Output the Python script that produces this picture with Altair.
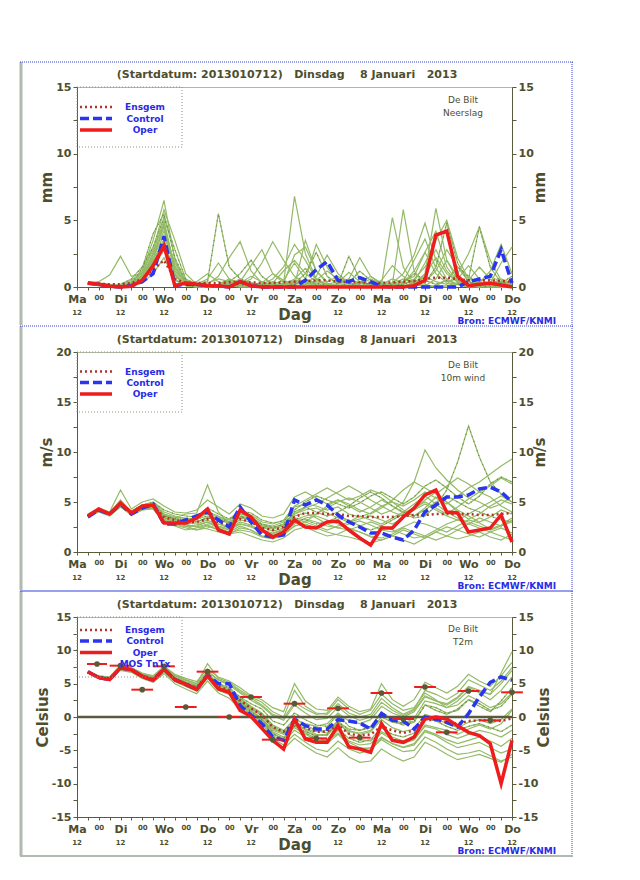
import altair as alt
import pandas as pd

# ---------------- data ----------------
HOURS = [6, 12, 18, 24, 30, 36, 42, 48, 54, 60, 66, 72, 78, 84, 90, 96, 102, 108, 114, 120,
         126, 132, 138, 144, 150, 156, 162, 168, 174, 180, 186, 192, 198, 204, 210, 216, 222, 228, 234, 240]
TICK_HOURS = [0] + HOURS
DAYS = ["Ma", "Di", "Wo", "Do", "Vr", "Za", "Zo", "Ma", "Di", "Wo", "Do"]
TWELVE_AT = [0, 24, 48, 72, 96, 144, 168, 192, 216, 240]
NB = "\u00a0"
TITLE = "(Startdatum: 2013010712)" + NB * 3 + "Dinsdag" + NB * 4 + "8 Januari" + NB * 3 + "2013"
STATION = "De Bilt"
SOURCE = "Bron: ECMWF/KNMI"
PANEL_NAMES = ["Neerslag", "10m wind", "T2m"]
Y_TITLES = ["mm", "m/s", "Celsius"]
LEGEND_LABELS = ["Ensgem", "Control", "Oper", "MOS TnTx"]

# Precipitation (mm / 6h)
P_OPER = [0.3, 0.2, 0.05, 0.0, 0.05, 0.5, 1.6, 3.1, 0.1, 0.3,
          0.2, 0.1, 0.1, 0.0, 0.4, 0.1, 0.0, 0.0, 0.0, 0.0,
          0.0, 0.0, 0.0, 0.0, 0.0, 0.0, 0.0, 0.0, 0.0, 0.0,
          0.1, 0.5, 3.9, 4.2, 0.8, 0.1, 0.2, 0.3, 0.15, 0.0]
P_CONTROL = [0.3, 0.2, 0.05, 0.0, 0.1, 0.4, 1.0, 3.8, 0.1, 0.2,
             0.2, 0.1, 0.1, 0.0, 0.4, 0.1, 0.0, 0.0, 0.0, 0.0,
             0.5, 1.3, 1.9, 0.5, 0.4, 0.7, 0.4, 0.05, 0.0, 0.0,
             0.0, 0.0, 0.0, 0.0, 0.0, 0.4, 0.6, 0.8, 2.8, 0.3]
P_ENSGEM = [0.3, 0.25, 0.2, 0.2, 0.3, 0.6, 1.3, 2.0, 0.6, 0.3,
            0.3, 0.3, 0.3, 0.35, 0.4, 0.35, 0.3, 0.3, 0.35, 0.4,
            0.45, 0.5, 0.5, 0.4, 0.35, 0.35, 0.3, 0.3, 0.35, 0.4,
            0.45, 0.6, 0.7, 0.7, 0.6, 0.5, 0.5, 0.5, 0.45, 0.4]
P_MEMBERS = [
    [0.3, 0.2, 0.1, 0.0, 0.2, 0.8, 2.5, 4.5, 1.2, 0.3, 0.1, 0.0, 0.2, 0.5, 0.3, 0.1, 0.0, 0.0, 0.2, 0.5,
     0.3, 0.1, 0.0, 0.0, 0.1, 0.3, 0.2, 0.0, 0.0, 0.2, 0.6, 1.5, 2.8, 1.2, 0.3, 0.1, 0.0, 0.0, 0.1, 0.2],
    [0.3, 0.3, 0.2, 0.1, 0.3, 1.2, 3.5, 6.5, 2.0, 0.4, 0.2, 0.1, 0.0, 0.0, 0.3, 0.8, 0.4, 0.1, 0.0, 0.1,
     0.2, 0.5, 1.2, 0.6, 0.2, 0.0, 0.0, 0.1, 0.3, 0.0, 0.2, 0.8, 0.4, 0.2, 1.0, 2.5, 4.5, 2.0, 0.5, 0.2],
    [0.2, 0.1, 0.0, 0.2, 0.6, 1.5, 3.0, 5.2, 2.8, 0.6, 0.2, 0.4, 5.5, 1.5, 0.6, 0.3, 0.1, 0.0, 0.0, 0.2,
     0.4, 0.2, 0.0, 0.0, 0.3, 1.2, 0.5, 0.1, 0.0, 0.3, 1.0, 0.5, 0.2, 0.5, 1.5, 0.8, 0.2, 0.1, 0.3, 0.8],
    [0.3, 0.2, 0.1, 0.1, 0.1, 0.5, 1.8, 3.6, 0.8, 0.2, 0.0, 0.0, 0.0, 0.1, 0.2, 0.6, 1.8, 3.4, 2.0, 0.8,
     0.3, 0.1, 0.0, 0.2, 0.6, 0.3, 0.0, 0.0, 0.0, 0.0, 0.1, 0.4, 1.2, 2.8, 1.5, 0.4, 0.2, 0.0, 0.0, 0.0],
    [0.3, 0.4, 0.9, 2.3, 0.8, 1.0, 2.2, 3.9, 1.5, 0.2, 0.1, 0.3, 0.6, 0.4, 0.1, 0.0, 0.0, 0.1, 0.3, 6.8,
     2.5, 0.6, 0.2, 0.0, 0.0, 0.1, 0.2, 0.4, 0.2, 0.1, 0.3, 1.0, 5.9, 2.0, 0.5, 0.2, 0.1, 0.0, 0.0, 0.1],
    [0.2, 0.2, 0.1, 0.0, 0.2, 0.7, 2.0, 4.8, 1.0, 0.1, 0.0, 0.2, 0.8, 2.2, 3.4, 1.2, 0.3, 0.0, 0.0, 0.0,
     0.2, 0.8, 2.4, 1.0, 0.3, 0.0, 0.0, 0.0, 0.2, 5.8, 1.2, 0.2, 0.0, 0.1, 0.3, 0.2, 0.0, 0.2, 0.6, 0.3],
    [0.3, 0.2, 0.0, 0.0, 0.4, 1.0, 2.8, 5.8, 3.5, 1.0, 0.2, 0.0, 0.1, 0.3, 0.2, 0.1, 0.3, 1.0, 0.5, 0.2,
     0.6, 3.2, 1.5, 0.3, 0.1, 0.0, 0.0, 0.2, 0.0, 0.0, 0.4, 1.8, 3.5, 5.0, 2.2, 0.6, 0.3, 0.1, 0.0, 0.2],
    [0.3, 0.3, 0.1, 0.0, 0.1, 0.4, 1.4, 2.8, 0.6, 0.1, 0.0, 0.0, 0.0, 0.0, 0.1, 0.3, 0.2, 0.0, 0.0, 0.3,
     1.0, 2.6, 0.8, 0.2, 2.3, 0.6, 0.1, 0.0, 0.2, 0.6, 0.3, 0.1, 0.0, 0.0, 0.2, 0.6, 4.5, 1.5, 0.3, 0.1],
    [0.2, 0.1, 0.1, 0.0, 0.3, 0.9, 2.4, 4.2, 1.8, 0.5, 0.3, 0.1, 0.0, 0.1, 0.4, 1.6, 2.8, 1.0, 0.3, 0.1,
     3.5, 1.2, 0.3, 0.0, 0.0, 0.2, 0.6, 0.2, 5.2, 1.5, 0.2, 0.0, 0.1, 0.5, 0.2, 0.0, 0.3, 1.2, 3.2, 1.0],
    [0.3, 0.2, 0.1, 0.1, 0.2, 0.6, 1.6, 3.2, 1.2, 0.4, 0.2, 0.1, 0.2, 0.6, 0.3, 0.1, 0.0, 0.3, 1.2, 2.0,
     1.0, 0.4, 0.2, 0.4, 0.6, 2.2, 0.8, 0.2, 0.0, 0.0, 0.2, 0.9, 2.2, 1.0, 0.4, 0.2, 0.4, 0.8, 0.4, 0.2],
    [0.3, 0.2, 0.0, 0.0, 0.1, 0.5, 2.6, 5.0, 1.4, 0.3, 0.1, 0.0, 0.0, 0.2, 0.6, 0.2, 0.0, 0.0, 0.1, 0.4,
     0.2, 0.0, 0.0, 0.1, 0.3, 0.1, 0.0, 0.0, 0.3, 1.0, 2.4, 4.8, 2.0, 0.6, 0.2, 0.0, 0.0, 0.1, 0.4, 0.2],
    [0.2, 0.2, 0.1, 0.1, 0.3, 0.8, 2.1, 3.4, 0.9, 0.2, 0.4, 1.0, 0.4, 0.1, 0.0, 0.0, 0.2, 0.6, 1.5, 3.2,
     2.0, 0.6, 0.1, 0.0, 0.0, 0.3, 0.8, 0.3, 0.1, 0.4, 2.0, 3.6, 1.4, 0.4, 0.6, 1.6, 0.6, 0.2, 0.0, 0.0],
    [0.3, 0.3, 0.2, 0.0, 0.2, 1.4, 4.0, 5.5, 2.2, 0.4, 0.1, 0.0, 0.1, 0.4, 1.0, 2.0, 0.8, 0.2, 0.0, 0.2,
     0.5, 0.3, 0.1, 0.0, 0.1, 0.4, 0.2, 0.0, 0.0, 0.2, 0.5, 0.3, 1.5, 4.8, 1.8, 0.4, 0.1, 0.0, 0.2, 0.5],
    [0.3, 0.2, 0.1, 0.0, 0.1, 0.3, 1.0, 2.2, 0.5, 0.1, 0.0, 0.0, 0.0, 0.1, 0.0, 0.0, 0.1, 0.4, 0.2, 0.6,
     1.4, 0.6, 0.2, 0.0, 0.0, 0.0, 0.1, 0.5, 1.6, 0.8, 0.2, 0.1, 0.6, 2.0, 0.8, 0.2, 0.0, 0.0, 0.0, 0.0],
    [0.2, 0.2, 0.1, 0.1, 0.5, 1.1, 3.0, 4.6, 1.6, 0.4, 0.2, 0.6, 1.8, 0.6, 0.2, 0.0, 0.0, 0.0, 0.3, 2.4,
     3.0, 1.2, 0.4, 0.8, 0.3, 0.0, 0.0, 0.2, 0.6, 0.3, 1.2, 2.6, 4.2, 1.5, 0.4, 0.1, 0.0, 0.3, 1.8, 3.0],
    [0.3, 0.2, 0.1, 0.0, 0.1, 0.6, 1.9, 3.0, 1.0, 0.2, 0.1, 0.0, 0.1, 0.2, 0.1, 0.0, 0.0, 0.2, 0.5, 1.8,
     0.6, 0.2, 0.0, 0.3, 1.1, 0.4, 0.1, 0.0, 0.1, 0.4, 0.8, 2.6, 1.0, 0.3, 0.2, 0.5, 1.5, 0.6, 0.2, 0.1],
]

# 10m wind (m/s)
W_OPER = [3.6, 4.3, 3.8, 4.9, 3.9, 4.6, 4.7, 2.9, 2.9, 2.9,
          3.4, 4.3, 2.2, 1.8, 4.2, 3.5, 2.2, 1.5, 2.0, 3.2,
          2.5, 2.4, 3.0, 3.1, 2.2, 1.4, 0.7, 2.4, 2.4, 3.5,
          4.4, 5.7, 6.2, 4.0, 3.9, 2.0, 2.2, 2.4, 3.7, 1.0]
W_CONTROL = [3.5, 4.2, 3.8, 4.8, 3.8, 4.4, 4.8, 2.8, 2.8, 3.2,
             3.6, 4.0, 3.2, 2.5, 4.5, 3.0, 1.7, 1.5, 1.7, 5.2,
             4.7, 5.2, 4.7, 3.7, 3.0, 2.5, 1.9, 1.9, 1.5, 1.2,
             2.2, 4.0, 4.7, 5.5, 5.5, 5.7, 6.3, 6.5, 6.0, 5.0]
W_ENSGEM = [3.6, 4.2, 3.8, 4.8, 3.9, 4.4, 4.6, 3.5, 3.2, 3.0,
            3.0, 3.3, 3.0, 2.7, 3.3, 3.0, 2.4, 2.2, 2.5, 3.5,
            3.9, 3.9, 3.8, 3.8, 3.6, 3.6, 3.5, 3.5, 3.5, 3.6,
            3.7, 3.7, 3.8, 3.8, 3.8, 3.8, 3.7, 3.7, 3.8, 3.9]
W_MEMBERS = [
    [3.7, 4.3, 3.9, 5.2, 4.0, 4.6, 4.8, 3.8, 3.5, 3.4, 3.2, 4.0, 3.6, 3.0, 3.8, 3.5, 2.8, 2.6, 3.0, 4.5,
     4.8, 4.6, 4.2, 4.5, 3.8, 3.5, 3.9, 4.6, 5.0, 4.2, 3.6, 4.4, 5.5, 5.0, 4.0, 3.3, 3.8, 4.6, 5.2, 4.8],
    [3.5, 4.1, 3.7, 4.6, 3.8, 4.3, 4.4, 3.2, 2.8, 2.5, 2.6, 3.0, 2.4, 2.0, 2.6, 2.2, 1.6, 1.5, 2.0, 3.0,
     3.3, 3.0, 2.6, 2.4, 2.8, 3.1, 2.7, 2.2, 2.0, 2.5, 3.0, 2.8, 2.4, 2.0, 2.6, 3.2, 2.9, 2.3, 2.7, 3.4],
    [3.6, 4.2, 3.8, 5.0, 4.1, 4.7, 5.0, 4.2, 3.8, 3.6, 3.5, 4.4, 3.8, 3.3, 4.1, 3.9, 3.2, 2.9, 3.1, 4.2,
     5.0, 5.6, 5.2, 4.8, 4.4, 4.9, 5.6, 6.0, 5.4, 4.8, 5.5, 6.6, 7.2, 6.4, 5.5, 4.8, 5.6, 6.8, 7.5, 7.0],
    [3.6, 4.2, 3.8, 4.7, 3.7, 4.2, 4.3, 3.0, 2.6, 2.2, 2.4, 2.7, 2.2, 1.8, 2.0, 1.6, 1.2, 1.0, 1.4, 2.2,
     2.5, 2.0, 1.6, 1.8, 2.3, 2.0, 1.5, 1.2, 1.6, 2.2, 1.8, 1.4, 2.0, 2.5, 2.2, 1.8, 1.5, 2.0, 2.4, 1.9],
    [3.8, 4.4, 4.0, 6.2, 4.3, 5.0, 5.3, 4.6, 4.0, 3.9, 4.2, 5.2, 4.5, 3.8, 4.8, 4.4, 3.6, 3.4, 3.8, 5.5,
     6.0, 5.4, 4.8, 5.2, 4.6, 4.0, 4.5, 5.2, 4.6, 3.9, 4.4, 5.0, 4.4, 3.8, 4.5, 5.3, 6.0, 5.5, 4.6, 4.0],
    [3.5, 4.1, 3.8, 4.8, 3.8, 4.5, 4.7, 3.6, 3.4, 3.8, 3.9, 6.7, 4.0, 2.8, 3.4, 3.2, 2.6, 2.4, 2.8, 3.8,
     4.2, 4.4, 3.9, 3.4, 3.0, 3.3, 3.6, 3.2, 2.8, 3.4, 4.2, 5.2, 6.0, 5.0, 4.2, 3.6, 3.0, 3.5, 4.2, 3.8],
    [3.6, 4.3, 3.9, 4.9, 3.9, 4.4, 4.5, 3.4, 3.0, 2.9, 2.8, 3.2, 2.6, 2.3, 3.0, 2.7, 2.0, 1.8, 2.2, 3.2,
     3.6, 3.8, 4.4, 5.0, 5.4, 5.0, 4.4, 3.8, 4.2, 5.0, 7.0, 10.2, 8.4, 7.2, 6.2, 5.4, 5.0, 4.4, 4.8, 5.6],
    [3.7, 4.2, 3.7, 4.6, 3.9, 4.3, 4.6, 3.6, 3.3, 3.1, 3.0, 3.4, 3.2, 2.9, 3.6, 3.4, 2.8, 2.5, 2.7, 3.4,
     3.2, 2.8, 3.0, 3.5, 3.2, 2.6, 2.2, 2.6, 3.2, 3.8, 3.4, 3.6, 4.6, 6.2, 9.0, 12.6, 9.5, 7.0, 5.8, 5.0],
    [3.6, 4.2, 3.8, 4.8, 4.0, 4.4, 4.6, 3.3, 2.9, 2.6, 2.7, 3.0, 2.5, 2.2, 2.8, 2.5, 2.0, 1.7, 1.9, 2.8,
     3.4, 3.6, 3.2, 2.8, 2.4, 2.0, 1.6, 1.4, 1.8, 2.4, 2.0, 1.6, 1.2, 1.6, 2.2, 2.8, 3.4, 3.0, 2.6, 3.2],
    [3.7, 4.3, 3.9, 4.9, 4.0, 4.6, 4.9, 4.0, 3.6, 3.3, 3.4, 3.8, 3.5, 3.2, 3.9, 3.7, 3.0, 2.8, 3.2, 4.6,
     5.2, 5.8, 6.4, 5.8, 5.2, 5.6, 6.2, 5.8, 5.0, 4.6, 5.2, 6.0, 5.4, 4.8, 5.6, 6.4, 7.0, 7.8, 8.6, 9.3],
    [3.5, 4.0, 3.6, 4.5, 3.7, 4.2, 4.4, 3.4, 3.1, 2.8, 2.5, 2.8, 2.8, 2.6, 3.2, 3.0, 2.5, 2.3, 2.6, 3.6,
     3.9, 3.4, 2.8, 2.4, 2.2, 2.6, 3.0, 2.6, 2.2, 1.8, 1.4, 1.6, 2.2, 2.8, 3.2, 2.8, 2.4, 2.0, 1.6, 1.2],
    [3.6, 4.2, 3.8, 5.0, 3.9, 4.5, 4.7, 3.7, 3.2, 2.7, 2.5, 2.3, 2.0, 1.8, 2.4, 2.2, 1.6, 1.4, 1.8, 2.6,
     3.0, 3.8, 4.6, 5.2, 4.8, 4.2, 3.8, 4.4, 5.2, 6.2, 7.0, 6.4, 5.8, 6.6, 7.4, 6.8, 6.0, 6.6, 7.4, 6.8],
    [3.6, 4.1, 3.8, 4.7, 3.9, 4.4, 4.6, 3.6, 3.4, 3.2, 3.3, 3.6, 3.4, 3.0, 3.5, 3.3, 2.7, 2.4, 2.8, 4.0,
     4.5, 4.0, 3.6, 4.0, 4.6, 5.4, 6.0, 5.4, 4.6, 4.0, 3.6, 4.2, 5.0, 5.6, 5.0, 4.4, 4.0, 3.6, 3.2, 3.0],
    [3.7, 4.2, 3.9, 4.8, 3.8, 4.3, 4.5, 3.5, 3.1, 2.6, 2.2, 2.4, 2.8, 2.4, 2.8, 2.6, 2.2, 1.9, 2.3, 3.3,
     3.0, 2.6, 2.2, 2.6, 3.0, 3.6, 3.2, 2.8, 3.4, 4.0, 4.8, 5.6, 4.8, 4.0, 3.4, 3.0, 2.6, 2.2, 2.6, 3.0],
    [3.6, 4.2, 3.8, 4.9, 4.0, 4.5, 4.7, 3.8, 3.3, 3.0, 3.0, 3.5, 3.3, 2.9, 3.5, 3.2, 2.5, 2.1, 2.4, 3.8,
     4.4, 4.8, 5.4, 6.0, 6.6, 6.0, 5.2, 4.6, 4.0, 3.6, 4.2, 4.8, 4.2, 3.6, 3.2, 3.8, 4.4, 5.0, 5.6, 5.0],
    [3.5, 4.1, 3.7, 4.7, 3.8, 4.3, 4.4, 3.1, 2.7, 2.4, 2.2, 2.6, 2.2, 1.9, 2.2, 2.0, 1.5, 1.3, 1.7, 2.6,
     2.8, 2.4, 2.0, 1.7, 1.5, 1.2, 0.9, 1.2, 1.6, 1.2, 0.8, 1.4, 2.0, 1.6, 1.3, 1.6, 2.0, 1.5, 1.2, 1.8],
]

# 2m temperature (Celsius)
T_OPER = [6.8, 5.9, 5.6, 7.4, 7.1, 6.1, 5.5, 7.2, 5.6, 4.9,
          4.1, 6.2, 4.2, 3.7, 1.0, 0.1, -1.7, -3.5, -4.8, -0.3,
          -3.3, -3.8, -3.8, -1.3, -4.5, -4.8, -5.3, -1.0, -3.5, -3.8,
          -3.0, -0.3, 0.0, -0.3, -1.3, -2.3, -2.8, -4.0, -10.0, -3.5]
T_CONTROL = [6.8, 5.9, 5.6, 7.4, 7.1, 6.1, 5.5, 7.2, 5.6, 4.9,
             4.1, 6.3, 5.0, 5.0, 1.7, 0.3, -1.0, -3.0, -3.5, -0.3,
             -1.3, -1.8, -1.8, -0.4, -0.6, -0.9, -1.8, 0.5, -0.5, -0.6,
             -1.8, 0.0, -0.3, -0.8, -1.5, 0.5, 3.0, 5.2, 6.0, 5.5]
T_ENSGEM = [6.7, 6.0, 5.8, 7.3, 7.0, 6.2, 5.7, 7.0, 5.7, 5.0,
            4.4, 6.2, 4.6, 4.0, 2.5, 1.3, 0.3, -1.5, -2.2, -0.8,
            -1.6, -2.2, -2.2, -1.2, -2.5, -2.8, -2.6, -1.4, -2.0, -2.4,
            -2.0, -0.4, -0.5, -0.8, -1.0, -0.6, -0.5, -0.5, -0.6, -0.2]
T_MEMBERS = [
    [6.8, 6.1, 5.9, 7.6, 7.2, 6.4, 6.0, 7.4, 6.2, 5.5, 5.0, 6.8, 5.5, 4.8, 3.6, 2.5, 1.6, 0.2, -0.5, 1.8,
     0.6, -0.4, -0.2, 1.5, 0.2, -0.5, 0.0, 2.2, 1.0, 0.2, 1.0, 3.2, 2.4, 1.8, 2.8, 4.5, 3.6, 2.6, 4.0, 6.0],
    [6.6, 5.9, 5.7, 7.1, 6.8, 6.0, 5.4, 6.7, 5.3, 4.6, 3.9, 5.8, 4.0, 3.4, 1.8, 0.4, -0.8, -2.8, -3.6, -2.0,
     -3.0, -3.8, -4.0, -2.6, -4.2, -4.8, -4.6, -3.0, -4.0, -4.5, -4.0, -2.0, -2.6, -3.4, -4.0, -3.5, -3.0, -3.6, -4.4, -3.2],
    [6.7, 6.0, 5.8, 7.4, 7.1, 6.3, 5.8, 7.2, 5.9, 5.2, 4.6, 6.6, 5.0, 4.4, 3.0, 2.0, 1.2, -0.6, -1.2, 0.6,
     -0.4, -1.2, -1.4, 0.4, -1.4, -2.0, -1.6, 0.8, -0.6, -1.2, -0.8, 1.8, 1.0, 0.4, 1.2, 2.6, 1.6, 0.8, 2.4, 4.4],
    [6.8, 6.1, 5.8, 7.3, 7.0, 6.1, 5.6, 6.9, 5.6, 4.9, 4.2, 6.0, 4.4, 3.6, 2.2, 0.9, -0.2, -2.2, -3.0, -1.6,
     -2.6, -3.4, -3.6, -2.0, -3.6, -4.2, -4.0, -2.4, -3.4, -4.0, -3.4, -1.4, -1.8, -2.6, -3.2, -2.6, -2.0, -2.4, -3.0, -2.0],
    [6.7, 6.0, 5.9, 7.5, 7.2, 6.5, 6.2, 7.6, 6.4, 5.8, 5.3, 7.2, 6.0, 5.4, 4.4, 3.2, 2.6, 1.4, 0.8, 5.0,
     2.4, 1.2, 1.0, 3.0, 1.6, 0.8, 1.2, 5.0, 2.6, 1.6, 2.6, 5.2, 4.4, 3.6, 4.6, 6.4, 5.4, 4.6, 6.2, 8.2],
    [6.6, 5.9, 5.6, 7.0, 6.7, 5.8, 5.2, 6.5, 5.0, 4.2, 3.5, 5.4, 3.6, 2.8, 1.2, -0.2, -1.6, -3.8, -4.8, -3.2,
     -4.4, -5.4, -6.0, -4.6, -6.0, -6.8, -6.6, -4.8, -5.8, -6.6, -6.0, -3.8, -4.6, -5.6, -6.4, -6.0, -5.6, -6.2, -6.8, -5.6],
    [6.7, 6.0, 5.8, 7.3, 7.0, 6.2, 5.7, 7.1, 5.8, 5.1, 4.5, 6.3, 4.8, 4.2, 2.8, 1.6, 0.6, -1.2, -2.0, -0.4,
     -1.0, -1.4, -1.0, 0.6, -0.6, -1.0, -0.4, 1.6, 0.6, 0.0, 0.8, 3.0, 2.4, 2.0, 3.0, 4.6, 4.0, 3.4, 5.0, 7.0],
    [6.8, 6.1, 5.8, 7.4, 7.1, 6.3, 5.7, 7.0, 5.8, 5.0, 4.4, 6.2, 4.4, 3.8, 2.2, 0.8, -0.4, -2.4, -3.4, -1.2,
     -2.4, -3.2, -3.4, -1.8, -3.2, -3.8, -3.4, -1.6, -2.6, -3.0, -2.4, -0.2, -0.6, -1.4, -2.0, -1.4, -1.0, -1.6, -2.2, -1.2],
    [6.7, 6.1, 5.9, 7.5, 7.2, 6.4, 5.9, 7.3, 6.0, 5.3, 4.8, 6.9, 5.6, 5.0, 3.8, 2.8, 1.8, 0.4, -0.2, 2.2,
     1.2, 0.4, 0.6, 2.6, 1.2, 0.4, 1.0, 3.4, 2.0, 1.0, 1.4, 3.6, 2.6, 1.4, 1.8, 3.2, 2.4, 1.4, 2.0, 3.6],
    [6.6, 5.9, 5.7, 7.1, 6.9, 6.0, 5.5, 6.8, 5.5, 4.8, 4.2, 6.0, 4.2, 3.4, 1.6, 0.2, -1.0, -3.2, -4.2, -2.6,
     -3.8, -4.8, -5.2, -3.6, -4.8, -5.4, -5.0, -3.2, -4.0, -4.6, -4.2, -2.2, -2.8, -3.8, -4.6, -4.2, -3.8, -4.6, -5.4, -4.8],
    [6.7, 6.0, 5.8, 7.2, 7.0, 6.2, 5.6, 7.0, 5.6, 4.9, 4.3, 6.1, 4.5, 3.9, 2.4, 1.2, 0.2, -1.8, -2.4, -0.8,
     -1.8, -2.6, -2.8, -1.0, -2.2, -2.4, -2.0, 0.0, -0.8, -1.0, -0.2, 2.4, 2.0, 1.4, 2.4, 4.0, 3.8, 3.4, 6.6, 9.8],
    [6.8, 6.1, 5.9, 7.4, 7.1, 6.3, 5.8, 7.2, 5.9, 5.2, 4.6, 6.5, 4.9, 4.2, 2.8, 1.4, 0.4, -1.4, -2.2, -0.2,
     -1.2, -2.0, -2.4, -0.6, -2.6, -3.4, -3.6, -2.2, -3.0, -3.6, -3.4, -1.2, -1.6, -2.0, -2.6, -1.8, -1.2, -1.8, -1.0, 1.0],
    [6.6, 6.0, 5.7, 7.2, 6.9, 6.1, 5.6, 6.9, 5.6, 4.9, 4.3, 6.1, 4.3, 3.7, 2.0, 0.6, -0.6, -2.6, -3.2, -1.4,
     -2.2, -2.8, -2.6, -0.8, -1.8, -2.0, -1.4, 0.6, -0.4, -1.0, -0.6, 1.8, 1.4, 0.6, 1.0, 2.6, 2.0, 1.0, 1.6, 3.4],
    [6.7, 6.0, 5.8, 7.3, 7.0, 6.2, 5.7, 7.0, 5.7, 5.0, 4.4, 6.2, 4.6, 4.0, 2.6, 1.4, 0.4, -1.6, -2.4, -0.8,
     -2.0, -3.0, -3.6, -2.4, -3.8, -4.6, -4.8, -3.4, -4.4, -5.2, -5.0, -3.0, -3.8, -4.8, -5.6, -5.4, -5.0, -5.8, -6.6, -6.0],
    [6.8, 6.2, 6.0, 7.8, 7.4, 6.6, 6.1, 7.5, 6.3, 5.6, 5.0, 8.0, 5.8, 5.2, 4.0, 3.0, 2.2, 0.8, 0.0, 4.0,
     1.6, 0.6, 0.4, 2.0, 0.6, 0.0, 0.4, 2.8, 1.4, 0.4, 1.2, 4.0, 3.4, 2.6, 3.6, 5.6, 4.8, 4.0, 5.4, 7.4],
    [6.7, 6.0, 5.8, 7.3, 7.0, 6.2, 5.7, 7.0, 5.7, 4.9, 4.3, 6.1, 4.5, 3.9, 2.3, 1.0, -0.2, -2.0, -2.6, -1.2,
     -1.8, -2.2, -2.0, -0.6, -2.0, -2.6, -2.2, -0.4, -1.6, -2.2, -1.8, 0.4, -0.2, -1.0, -1.6, -0.8, -0.4, -1.0, -0.4, 1.2],
]

# MOS Tn/Tx
MOS_HOURS = [24, 36, 48, 60, 72, 84, 96, 108, 120, 132, 144, 156, 168, 180, 192, 204, 216, 228, 240]
MOS_VALUES = [7.7, 4.1, 7.6, 1.5, 6.8, 0.0, 3.0, -3.4, 2.0, -3.2, 1.3, -3.1, 3.6, -0.3, 4.5, -2.3, 3.9, -0.5, 3.7]

DOTTED_MEMBERS = [2, 7, 12]

# ---------------- styles ----------------
FONT = "DejaVu Sans"
TXT = "#4e4e2e"
AX = "#5a5a3c"
GREEN = "#94ba66"
DARKG = "#5a7a3c"
ENS_C = "#b03428"
CTRL_C = "#2a35f0"
OPER_C = "#ee1c1c"
BLUE_T = "#2a2ae6"
FRAME_BLUE = "#3440e0"
FRAME_GRAY = "#b0bab0"
MOS_C = "#5a5a36"
W, H = 435, 200

ONE = pd.DataFrame({"k": [0]})
LABEL_EXPR = ("datum.value % 24 == 0 ? " + str(DAYS) + "[datum.value / 24] : "
              "(datum.value % 24 == 12 ? '00' : '')")


def xenc(field="hour"):
    return alt.X(
        f"{field}:Q",
        scale=alt.Scale(domain=[0, 240], nice=False, zero=False),
        axis=alt.Axis(
            values=TICK_HOURS, labelExpr=LABEL_EXPR, title="Dag",
            titleFont=FONT, titleFontSize=15, titleFontWeight="bold", titleColor=TXT, titlePadding=3,
            labelFont=FONT, labelFontWeight="bold", labelColor=TXT,
            labelFontSize={"condition": {"test": "datum.value % 24 == 12", "value": 7}, "value": 11},
            labelPadding=3, labelFlush=False, labelOverlap=False, labelBound=False,
            tickSize=3, tickColor=AX, domainColor=AX, grid=False,
        ),
    )


def yaxis(orient, title, values, pad):
    return alt.Axis(
        orient=orient, values=values, labelExpr="datum.value % 5 == 0 ? '' + datum.value : ''",
        title=title, titleAngle=270, titleFont=FONT, titleFontSize=15, titleFontWeight="bold",
        titleColor=TXT, titlePadding=pad, labelFont=FONT, labelFontSize=11, labelFontWeight="bold",
        labelColor=TXT, labelPadding=2, labelOverlap=False, labelFlush=False, tickSize=4,
        tickColor=AX, domainColor=AX, grid=False,
    )


def rule(x1, y1, x2=None, y2=None, color=AX, width=1.0, dash=None):
    kw = dict(color=color, strokeWidth=width)
    if dash:
        kw["strokeDash"] = dash
    enc = dict(x=alt.value(x1), y=alt.value(y1))
    if x2 is not None:
        enc["x2"] = alt.value(x2)
    if y2 is not None:
        enc["y2"] = alt.value(y2)
    return alt.Chart(ONE).mark_rule(**kw).encode(**enc)


def text(t, x, y, size, color=TXT, weight="bold", align="center", baseline="middle"):
    return alt.Chart(ONE).mark_text(
        text=t, font=FONT, fontSize=size, fontWeight=weight, color=color, align=align, baseline=baseline
    ).encode(x=alt.value(x), y=alt.value(y))


LEG_STYLES = [
    dict(color=ENS_C, width=2.5, dash=[2, 3]),
    dict(color=CTRL_C, width=3.5, dash=[9, 4]),
    dict(color=OPER_C, width=3.5),
]


def panel(idx, members, ensgem, control, oper, ydom, yvals, legend_y, frame, station_y, mos=False, zero=False):
    X = xenc()
    sc = lambda: alt.Scale(domain=ydom, nice=False, zero=False)
    yl = yaxis("left", Y_TITLES[idx], yvals, 1)
    yr = yaxis("right", Y_TITLES[idx], yvals, 14)

    mem = pd.DataFrame([{"hour": h, "value": v, "member": m}
                        for m, vals in enumerate(members) for h, v in zip(HOURS, vals)])
    df = pd.DataFrame({"hour": HOURS, "ensgem": ensgem, "control": control, "oper": oper})

    layers = []
    # frame around the panel
    top, bottom, top_dash, top_color, bottom_color = frame
    layers.append(rule(-56, top, y2=bottom, color=FRAME_GRAY, width=3))
    layers.append(rule(495, top, y2=bottom, color=FRAME_BLUE, width=1, dash=[1, 1]))
    layers.append(rule(-57, top, x2=496, color=top_color, width=1, dash=top_dash))
    if bottom_color:
        layers.append(rule(-57, bottom, x2=496, color=bottom_color, width=2))

    layers.append(alt.Chart(mem).mark_line(color=GREEN, strokeWidth=1.2).encode(
        x=X, y=alt.Y("value:Q", scale=sc(), axis=yl), detail="member:N"))
    layers.append(alt.Chart(mem).transform_filter(
        alt.FieldOneOfPredicate(field="member", oneOf=DOTTED_MEMBERS)
    ).mark_line(color=DARKG, strokeWidth=1.2, strokeDash=[1, 4], opacity=0.8).encode(
        x=X, y=alt.Y("value:Q", scale=sc(), axis=yl), detail="member:N"))
    if zero:
        layers.append(alt.Chart(pd.DataFrame({"value": [0]})).mark_rule(color=AX, strokeWidth=2.5).encode(
            y=alt.Y("value:Q", scale=sc(), axis=yl)))
    layers.append(alt.Chart(df).mark_line(color=ENS_C, strokeWidth=2.5, strokeDash=[2, 3]).encode(
        x=X, y=alt.Y("ensgem:Q", scale=sc(), axis=yl)))
    layers.append(alt.Chart(df).mark_line(color=CTRL_C, strokeWidth=3.5, strokeDash=[9, 4]).encode(
        x=X, y=alt.Y("control:Q", scale=sc(), axis=yl)))
    layers.append(alt.Chart(df).mark_line(color=OPER_C, strokeWidth=3.5).encode(
        x=X, y=alt.Y("oper:Q", scale=sc(), axis=yl)))
    if mos:
        mdf = pd.DataFrame({"hour": MOS_HOURS, "value": MOS_VALUES})
        layers.append(alt.Chart(mdf).transform_calculate(h0="datum.hour - 6", h1="datum.hour + 6")
                      .mark_rule(color=OPER_C, strokeWidth=2).encode(
            x=xenc("h0"), x2="h1:Q", y=alt.Y("value:Q", scale=sc(), axis=yl)))
        layers.append(alt.Chart(mdf).mark_point(filled=True, shape="circle", size=32, color=MOS_C, opacity=1).encode(
            x=X, y=alt.Y("value:Q", scale=sc(), axis=yl)))

    # small "12" under the day labels
    layers.append(alt.Chart(pd.DataFrame({"hour": TWELVE_AT})).mark_text(
        text="12", font=FONT, fontSize=7, fontWeight="bold", color=TXT).encode(x=X, y=alt.value(H + 26)))

    # legend
    layers.append(alt.Chart(ONE).mark_rect(filled=False, stroke="#8c9474", strokeWidth=1, strokeDash=[1, 2]).encode(
        x=alt.value(0), x2=alt.value(105), y=alt.value(0), y2=alt.value(60)))
    for label, y, st in zip(LEGEND_LABELS, legend_y, LEG_STYLES):
        layers.append(rule(3, y, x2=35, color=st["color"], width=st["width"], dash=st.get("dash")))
        layers.append(text(label, 68, y, 9, color=BLUE_T))
    if mos:
        y = legend_y[3]
        layers.append(rule(10, y, x2=30, color=OPER_C, width=2))
        layers.append(alt.Chart(ONE).mark_point(filled=True, shape="circle", size=32, color=MOS_C, opacity=1)
                      .encode(x=alt.value(20), y=alt.value(y)))
        layers.append(text(LEGEND_LABELS[3], 68, y, 9, color=BLUE_T))

    # texts
    layers.append(text(TITLE, 210, -12, 11))
    layers.append(text(STATION, 386, station_y[0], 9, weight="normal"))
    layers.append(text(PANEL_NAMES[idx], 386, station_y[1], 9, weight="normal"))
    layers.append(text(SOURCE, 479, 237, 9, color=BLUE_T, align="right", baseline="alphabetic"))

    inner = alt.layer(*layers)
    right = alt.Chart(df).mark_line(opacity=0).encode(x=X, y=alt.Y("oper:Q", scale=sc(), axis=yr))
    return alt.layer(inner, right).resolve_scale(y="independent").properties(width=W, height=H)


p1 = panel(0, P_MEMBERS, P_ENSGEM, P_CONTROL, P_OPER, [0, 15],
           [0, 2.5, 5, 7.5, 10, 12.5, 15], [20, 31.5, 43],
           (-25, 238, [1, 1], FRAME_BLUE, None), (13, 26))
p2 = panel(1, W_MEMBERS, W_ENSGEM, W_CONTROL, W_OPER, [0, 20],
           [0, 2.5, 5, 7.5, 10, 12.5, 15, 17.5, 20], [19.5, 30.5, 42],
           (-26, 238, [1, 1], FRAME_BLUE, None), (13, 26))
p3 = panel(2, T_MEMBERS, T_ENSGEM, T_CONTROL, T_OPER, [-15, 15],
           [-15, -12.5, -10, -7.5, -5, -2.5, 0, 2.5, 5, 7.5, 10, 12.5, 15], [13, 24, 35.5, 47],
           (-26, 239, None, FRAME_BLUE, FRAME_GRAY), (12, 25), mos=True, zero=True)

chart = alt.vconcat(p1, p2, p3, spacing=65, bounds="flush").properties(
    padding={"left": 10, "top": 52, "right": 4, "bottom": 4},
    background="white",
).configure_view(stroke="#b0b8a8", strokeWidth=1)

chart.save("out.html", embed_options={"renderer": "svg", "actions": False})
